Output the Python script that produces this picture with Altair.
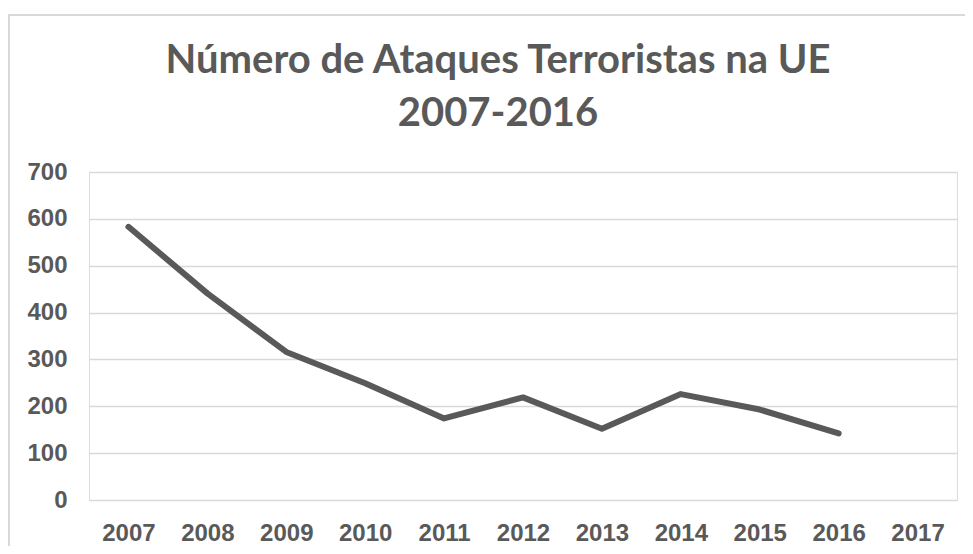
import altair as alt
import pandas as pd

years = ["2007", "2008", "2009", "2010", "2011", "2012", "2013", "2014", "2015", "2016", "2017"]
attacks = [583, 441, 316, 249, 174, 219, 152, 226, 193, 142, None]

df = pd.DataFrame({"ano": years, "ataques": attacks})

GRAY = "#595959"
GRID = "#d9d9d9"

line = alt.Chart(df).mark_line(
    color=GRAY, strokeWidth=6, strokeCap="round", strokeJoin="round"
).encode(
    x=alt.X(
        "ano:O",
        sort=years,
        scale=alt.Scale(type="point", padding=0.5),
        axis=alt.Axis(
            title=None, labelAngle=0, ticks=False, tickSize=0, domain=False,
            labelPadding=21, labelFontSize=24, labelFont="Liberation Sans",
            labelFontWeight="bold", labelColor=GRAY, grid=False,
        ),
    ),
    y=alt.Y(
        "ataques:Q",
        scale=alt.Scale(domain=[0, 700]),
        axis=alt.Axis(
            title=None, values=[0, 100, 200, 300, 400, 500, 600, 700],
            ticks=False, tickSize=0, domain=False, labelPadding=22,
            labelFontSize=24, labelFont="Liberation Sans", labelFontWeight="bold",
            labelColor=GRAY, grid=True, gridColor=GRID, gridWidth=1.6,
        ),
    ),
)

frame_top = alt.Chart(pd.DataFrame({"k": [0]})).mark_rule(
    stroke=GRID, strokeWidth=2
).encode(
    x=alt.value(-80), x2=alt.value(876), y=alt.value(-157), y2=alt.value(-157),
)
frame_left = alt.Chart(pd.DataFrame({"k": [0]})).mark_rule(
    stroke=GRID, strokeWidth=2
).encode(
    x=alt.value(-80), x2=alt.value(-80), y=alt.value(-158), y2=alt.value(374),
)

chart = alt.layer(frame_top, frame_left, line).properties(
    width=868,
    height=328,
    autosize=alt.AutoSizeParams(type="none"),
    padding={"left": 81, "top": 164, "right": 8, "bottom": 46},
    title=alt.TitleParams(
        text=["Número de Ataques Terroristas na UE", "2007-2016"],
        anchor="middle", frame="group", dx=-25, offset=-121,
        font="Lato", fontSize=40, fontWeight="bold", color=GRAY, lineHeight=53,
    ),
).configure_view(stroke=None).configure(background="white")

chart.save("out.html", embed_options={"renderer": "svg", "actions": False})
